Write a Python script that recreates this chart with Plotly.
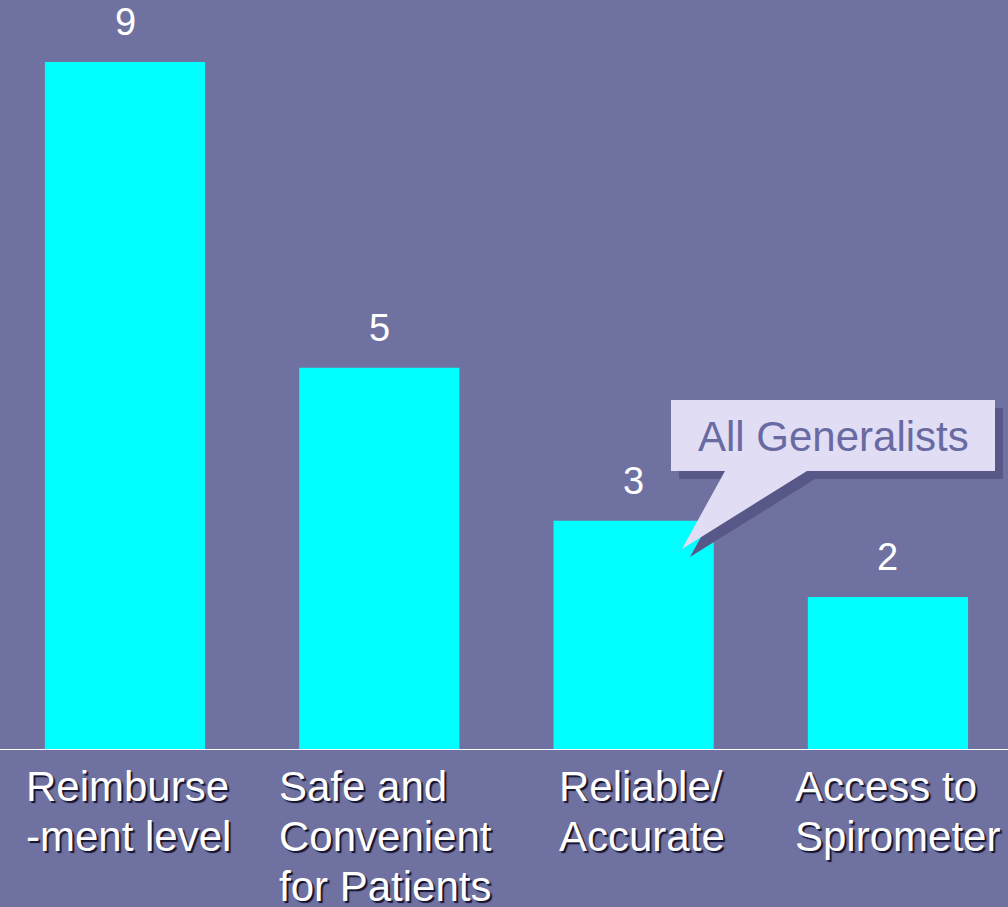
import plotly.graph_objects as go

categories = ["Reimburse<br>-ment level", "Safe and<br>Convenient<br>for Patients",
              "Reliable/<br>Accurate", "Access to<br>Spirometer"]
values = [9, 5, 3, 2]
callout_text = "All Generalists"

BG = "#6F71A0"
BAR = "#00FFFF"
FONT = "Liberation Sans, Arial, sans-serif"
W, H = 1008, 907
PLOT_H = 750

label_dx = [-101, -102, -77, -95]   # left edge of label block relative to bar centre (px)

fig = go.Figure(go.Bar(
    x=list(range(len(values))), y=values,
    marker=dict(color=BAR, line=dict(width=0)),
    width=0.63, hoverinfo="skip",
))

ann = []
for i, v in enumerate(values):
    ann.append(dict(x=i, y=v, xref="x", yref="y", text=str(v), showarrow=False,
                    yanchor="middle", yshift=40,
                    font=dict(family=FONT, size=38, color="white")))
for i, cat in enumerate(categories):
    for j, line in enumerate(cat.split("<br>")):
        ann.append(dict(x=i, y=-(36 + 50 * j) / PLOT_H, xref="x", yref="paper",
                        text=line, showarrow=False, xanchor="left", yanchor="middle",
                        xshift=label_dx[i],
                        font=dict(family=FONT, size=42, color="white",
                                  shadow="2px 2px 1px #141430")))

def P(p, q):
    return p / W, 1 - q / PLOT_H

def path(pts):
    s = ""
    for k, (p, q) in enumerate(pts):
        x, y = P(p, q)
        s += ("M" if k == 0 else "L") + f"{x:.5f},{y:.5f} "
    return s + "Z"

callout = [(671, 400), (995, 400), (995, 471), (807, 471), (682, 549), (725, 471), (671, 471)]
shadow = [(p + 8, q + 8) for p, q in callout]
shapes = [
    dict(type="path", xref="paper", yref="paper", path=path(shadow),
         fillcolor="#585888", line=dict(width=0)),
    dict(type="path", xref="paper", yref="paper", path=path(callout),
         fillcolor="#E0DDF5", line=dict(width=0)),
    dict(type="line", xref="paper", yref="y", x0=0, x1=1, y0=0, y1=0,
         line=dict(color="white", width=2)),
]
cx, cy = P(833, 436)
ann.append(dict(x=cx, y=cy, xref="paper", yref="paper", text=callout_text,
                showarrow=False, xanchor="center", yanchor="middle",
                font=dict(family=FONT, size=42, color="#6A6AA2")))

fig.update_layout(
    width=W, height=H,
    paper_bgcolor=BG, plot_bgcolor=BG,
    margin=dict(l=0, r=0, t=0, b=H - PLOT_H),
    showlegend=False,
    xaxis=dict(range=[-0.4915, 3.472], showgrid=False, zeroline=False,
               showticklabels=False, showline=False),
    yaxis=dict(range=[0, 9.81], showgrid=False, zeroline=False,
               showticklabels=False, showline=False),
    annotations=ann, shapes=shapes,
)
fig.write_html("out.html", config={"displayModeBar": False, "staticPlot": True},
               post_script="document.body.style.margin='0';document.body.style.overflow='hidden';")
